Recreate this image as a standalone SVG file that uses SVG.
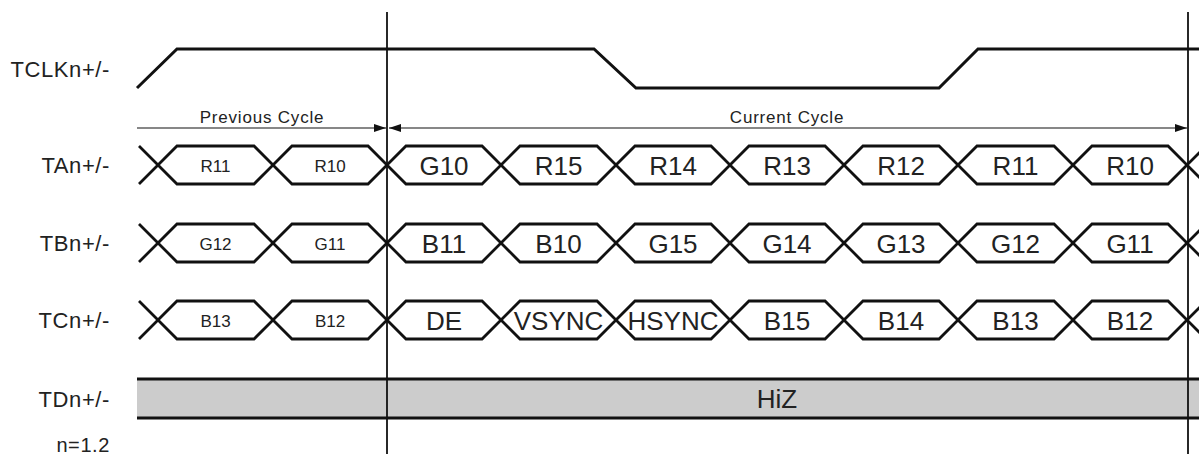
<svg xmlns="http://www.w3.org/2000/svg" width="1199" height="454" viewBox="0 0 1199 454">
<defs>
<style>
.lbl{font-family:"Liberation Sans",Arial,sans-serif;font-size:22px;fill:#222;text-anchor:end;letter-spacing:0.6px}
.big{font-family:"Liberation Sans",Arial,sans-serif;font-size:26px;fill:#222;text-anchor:middle}
.sm{font-family:"Liberation Sans",Arial,sans-serif;font-size:17px;fill:#222;text-anchor:middle}
.cyc{font-family:"Liberation Sans",Arial,sans-serif;font-size:17px;fill:#222;text-anchor:middle;letter-spacing:0.8px}
.sig{fill:none;stroke:#111;stroke-width:2.8;stroke-linejoin:miter}
.clk{fill:none;stroke:#111;stroke-width:3}
.vl{stroke:#111;stroke-width:1.8}
.ar{stroke:#111;stroke-width:1.2;fill:none}
</style>
<marker id="ah" markerWidth="12" markerHeight="8" refX="12" refY="4" orient="auto-start-reverse" markerUnits="userSpaceOnUse">
<path d="M0,0 L12,4 L0,8 Z" fill="#111"/>
</marker>
</defs>
<rect width="1199" height="454" fill="#fff"/>

<g id="labels">
<text class="lbl" x="110" y="77">TCLKn+/-</text>
<text class="lbl" x="110" y="173">TAn+/-</text>
<text class="lbl" x="110" y="251">TBn+/-</text>
<text class="lbl" x="110" y="328">TCn+/-</text>
<text class="lbl" x="110" y="407">TDn+/-</text>
<text class="lbl" x="110" y="452" style="font-size:20px">n=1.2</text>
</g>

<g id="TCLK">
<polyline class="clk" points="137,88 177,49 594,49 636,88 939,88 978,49 1199,49"/>
</g>

<g id="TD">
<rect x="137" y="379" width="1062" height="39" fill="#cccccc"/>
<line x1="137" y1="379" x2="1199" y2="379" stroke="#111" stroke-width="3"/>
<line x1="137" y1="418" x2="1199" y2="418" stroke="#111" stroke-width="3"/>
<text class="big" x="777" y="408">HiZ</text>
</g>

<g id="TA">
<path class="sig" d="M139,146 L158,165 L139,184"/>
<polygon class="sig" points="158,165 177,146 254,146 273,165 254,184 177,184"/>
<polygon class="sig" points="273,165 292,146 368,146 387,165 368,184 292,184"/>
<polygon class="sig" points="387,165 406,146 482,146 501,165 482,184 406,184"/>
<polygon class="sig" points="501,165 520,146 597,146 616,165 597,184 520,184"/>
<polygon class="sig" points="616,165 635,146 711,146 730,165 711,184 635,184"/>
<polygon class="sig" points="730,165 749,146 825,146 844,165 825,184 749,184"/>
<polygon class="sig" points="844,165 863,146 939,146 958,165 939,184 863,184"/>
<polygon class="sig" points="958,165 977,146 1054,146 1073,165 1054,184 977,184"/>
<polygon class="sig" points="1073,165 1092,146 1168,146 1187,165 1168,184 1092,184"/>
<path class="sig" d="M1230,146 L1206,146 L1187,165 L1206,184 L1230,184"/>
<text class="sm" x="215.5" y="172">R11</text>
<text class="sm" x="330" y="172">R10</text>
<text class="big" x="444" y="174.5">G10</text>
<text class="big" x="558.5" y="174.5">R15</text>
<text class="big" x="673" y="174.5">R14</text>
<text class="big" x="787" y="174.5">R13</text>
<text class="big" x="901" y="174.5">R12</text>
<text class="big" x="1015.5" y="174.5">R11</text>
<text class="big" x="1130" y="174.5">R10</text>
</g>

<g id="TB">
<path class="sig" d="M139,224 L158,243 L139,262"/>
<polygon class="sig" points="158,243 177,224 254,224 273,243 254,262 177,262"/>
<polygon class="sig" points="273,243 292,224 368,224 387,243 368,262 292,262"/>
<polygon class="sig" points="387,243 406,224 482,224 501,243 482,262 406,262"/>
<polygon class="sig" points="501,243 520,224 597,224 616,243 597,262 520,262"/>
<polygon class="sig" points="616,243 635,224 711,224 730,243 711,262 635,262"/>
<polygon class="sig" points="730,243 749,224 825,224 844,243 825,262 749,262"/>
<polygon class="sig" points="844,243 863,224 939,224 958,243 939,262 863,262"/>
<polygon class="sig" points="958,243 977,224 1054,224 1073,243 1054,262 977,262"/>
<polygon class="sig" points="1073,243 1092,224 1168,224 1187,243 1168,262 1092,262"/>
<path class="sig" d="M1230,224 L1206,224 L1187,243 L1206,262 L1230,262"/>
<text class="sm" x="215.5" y="250">G12</text>
<text class="sm" x="330" y="250">G11</text>
<text class="big" x="444" y="252.5">B11</text>
<text class="big" x="558.5" y="252.5">B10</text>
<text class="big" x="673" y="252.5">G15</text>
<text class="big" x="787" y="252.5">G14</text>
<text class="big" x="901" y="252.5">G13</text>
<text class="big" x="1015.5" y="252.5">G12</text>
<text class="big" x="1130" y="252.5">G11</text>
</g>

<g id="TC">
<path class="sig" d="M139,301 L158,320 L139,339"/>
<polygon class="sig" points="158,320 177,301 254,301 273,320 254,339 177,339"/>
<polygon class="sig" points="273,320 292,301 368,301 387,320 368,339 292,339"/>
<polygon class="sig" points="387,320 406,301 482,301 501,320 482,339 406,339"/>
<polygon class="sig" points="501,320 520,301 597,301 616,320 597,339 520,339"/>
<polygon class="sig" points="616,320 635,301 711,301 730,320 711,339 635,339"/>
<polygon class="sig" points="730,320 749,301 825,301 844,320 825,339 749,339"/>
<polygon class="sig" points="844,320 863,301 939,301 958,320 939,339 863,339"/>
<polygon class="sig" points="958,320 977,301 1054,301 1073,320 1054,339 977,339"/>
<polygon class="sig" points="1073,320 1092,301 1168,301 1187,320 1168,339 1092,339"/>
<path class="sig" d="M1230,301 L1206,301 L1187,320 L1206,339 L1230,339"/>
<text class="sm" x="215.5" y="327">B13</text>
<text class="sm" x="330" y="327">B12</text>
<text class="big" x="444" y="329.5">DE</text>
<text class="big" x="558.5" y="329.5">VSYNC</text>
<text class="big" x="673" y="329.5">HSYNC</text>
<text class="big" x="787" y="329.5">B15</text>
<text class="big" x="901" y="329.5">B14</text>
<text class="big" x="1015.5" y="329.5">B13</text>
<text class="big" x="1130" y="329.5">B12</text>
</g>

<g id="connectors">
<line class="vl" x1="387" y1="12" x2="387" y2="454"/>
<line class="vl" x1="1188" y1="12" x2="1188" y2="454"/>
<line class="ar" x1="137" y1="128" x2="386" y2="128" marker-end="url(#ah)"/>
<line class="ar" x1="389" y1="128" x2="1187" y2="128" marker-start="url(#ah)" marker-end="url(#ah)"/>
</g>

<g id="cycles">
<text class="cyc" x="262" y="123">Previous Cycle</text>
<text class="cyc" x="787" y="123">Current Cycle</text>
</g>
</svg>
